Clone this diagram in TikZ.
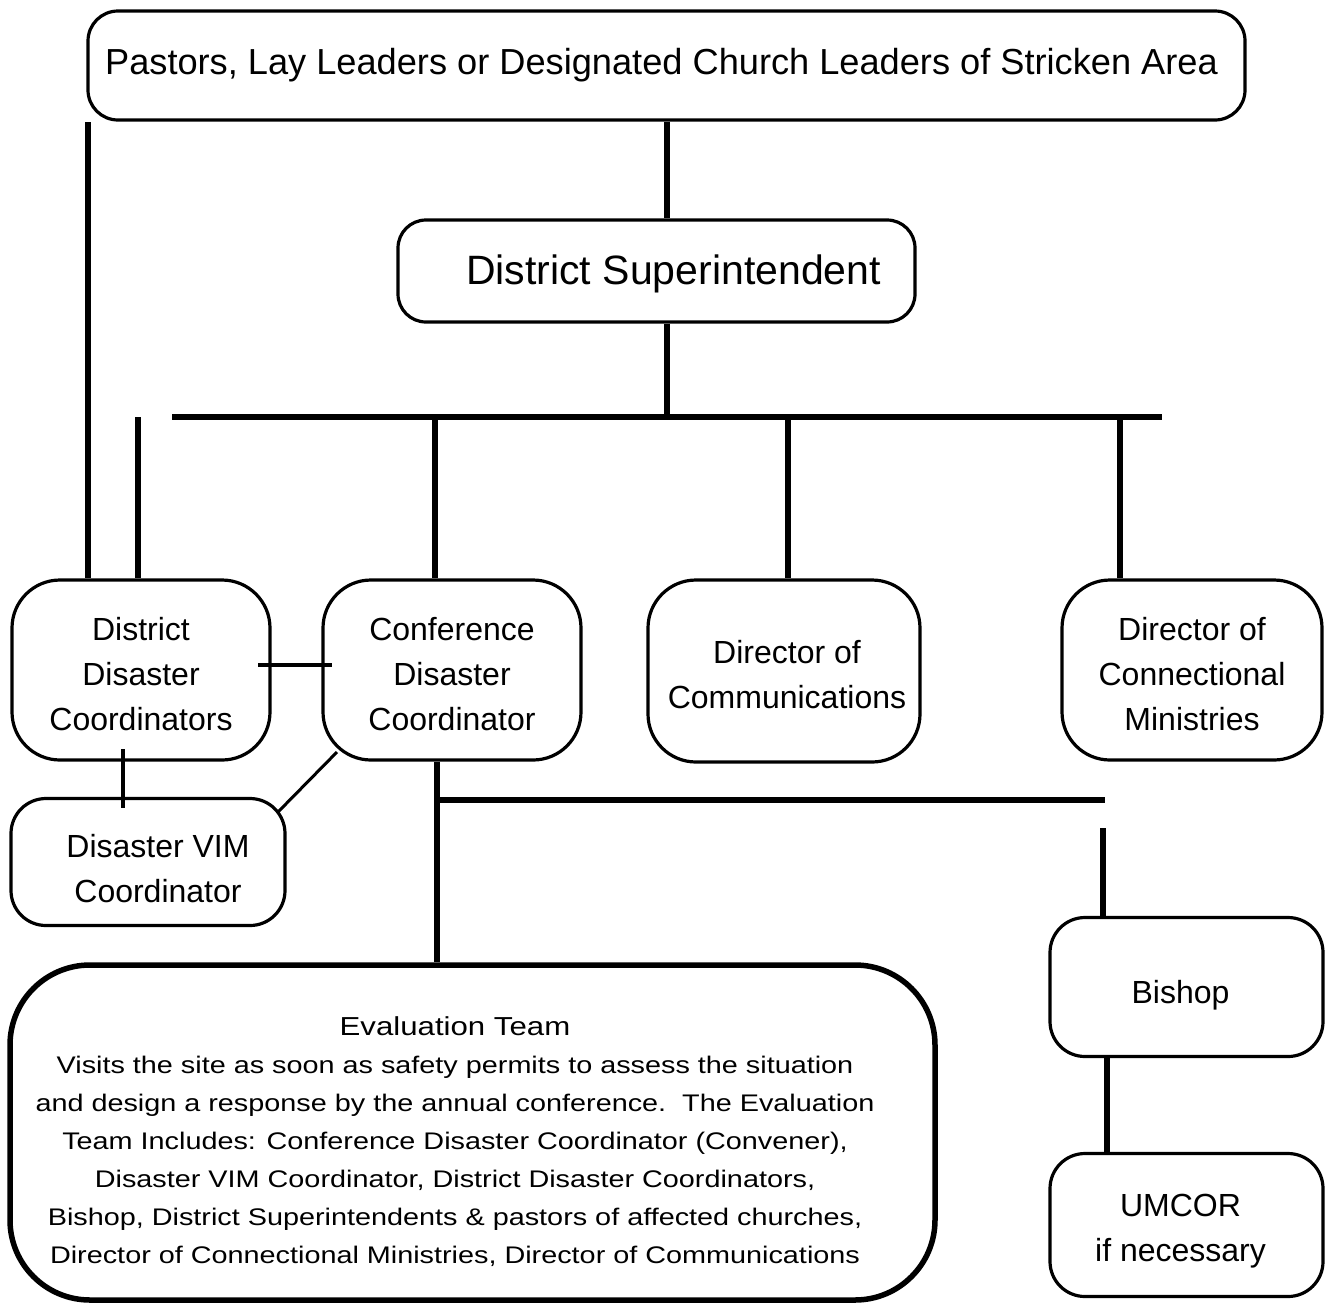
\documentclass[tikz,border=0pt]{standalone}
\usepackage{fontspec}
\setmainfont{Liberation Sans}
\newfontfamily\evalfont[FakeStretch=1.2]{Liberation Sans}
\newcommand\lowerby[2]{\raisebox{-#1}[\height][\depth]{#2}}
\begin{document}
\begin{tikzpicture}[x=1pt,y=-1pt,
  box/.style={draw, line width=3.2pt, align=center, inner sep=0pt,
    font=\fontsize{32}{45}\selectfont},
  conn/.style={line width=5.5pt},
  link/.style={line width=3.8pt},
  diag/.style={line width=3pt}]
\useasboundingbox (0,0) rectangle (1325,1307);

% boxes
\node[box, rounded corners=30pt, minimum width=1157pt, minimum height=109pt,
  font=\fontsize{36.2}{40}\selectfont] (top) at (666.5,65.5)
  {\hspace*{-10pt}Pastors, Lay Leaders or Designated Church Leaders of Stricken Area};
\node[box, rounded corners=28pt, minimum width=517pt, minimum height=102pt,
  font=\fontsize{41}{45}\selectfont] (ds) at (656.5,271)
  {\lowerby{3pt}{\hspace*{34pt}District Superintendent}};
\node[box, rounded corners=48pt, minimum width=258pt, minimum height=180pt] (ddc) at (141,670)
  {\lowerby{4pt}{\parbox{250pt}{\centering District\\Disaster\\Coordinators}}};
\node[box, rounded corners=48pt, minimum width=258pt, minimum height=180pt] (cdc) at (452,670)
  {\lowerby{4pt}{\parbox{250pt}{\centering Conference\\Disaster\\Coordinator}}};
\node[box, rounded corners=48pt, minimum width=272pt, minimum height=182pt] (doc) at (784,671)
  {\lowerby{4pt}{\parbox{264pt}{\centering\hspace*{6pt}Director of\\\hspace*{6pt}Communications}}};
\node[box, rounded corners=48pt, minimum width=260pt, minimum height=180pt] (dcm) at (1192,670)
  {\lowerby{4pt}{\parbox{250pt}{\centering Director of\\Connectional\\Ministries}}};
\node[box, rounded corners=35pt, minimum width=274pt, minimum height=127pt] (vim) at (148,862)
  {\lowerby{7pt}{\parbox{266pt}{\centering\hspace*{20pt}Disaster VIM\\\hspace*{20pt}Coordinator}}};
\node[box, rounded corners=35pt, minimum width=273pt, minimum height=139pt] (bishop) at (1186.5,987)
  {\lowerby{8pt}{\hspace*{-12pt}Bishop}};
\node[box, rounded corners=35pt, minimum width=273pt, minimum height=143pt] (umcor) at (1186.5,1225)
  {\lowerby{6pt}{\parbox{265pt}{\centering\hspace*{-12pt}UMCOR\\\hspace*{-12pt}if necessary}}};
\node[draw, line width=5.5pt, rounded corners=80pt, minimum width=925pt, minimum height=335pt,
  inner sep=0pt] (evalbox) at (472.5,1132.5) {};
\node[align=center, inner sep=0pt, font=\evalfont\fontsize{24}{38}\selectfont] (evaltext) at (455,1142)
  {{\fontsize{26}{40}\selectfont Evaluation Team}\\
   Visits the site as soon as safety permits to assess the situation\\
   and design a response by the annual conference.\ \ The Evaluation\\
   Team Includes: Conference Disaster Coordinator (Convener),\\
   Disaster VIM Coordinator, District Disaster Coordinators,\\
   Bishop, District Superintendents \& pastors of affected churches,\\
   Director of Connectional Ministries, Director of Communications};

% coordinates
\coordinate (spine) at (667,417);
\coordinate (busL) at (172,417);
\coordinate (busR) at (1162,417);
\coordinate (leftTop) at (88,122);
\coordinate (stubTop) at (138,417);
\coordinate (xc) at (435,417);
\coordinate (xd) at (788,417);
\coordinate (xm) at (1120,417);
\coordinate (xe) at (437,800);
\coordinate (bus2R) at (1105,800);
\coordinate (bishopTop) at (1103,828);
\coordinate (xb) at (1107,1000);
\coordinate (linkL) at (258,665);
\coordinate (linkR) at (332,665);
\coordinate (vimT) at (123,749);
\coordinate (vimB) at (123,808);
\coordinate (diagA) at (337,752);
\coordinate (diagB) at (278,812);

% connectors
\draw[conn] (top.south -| spine) -- (ds.north -| spine);
\draw[conn] (ds.south -| spine) -- (spine);
\draw[conn] (busL) -- (busR);
\draw[conn] (leftTop) -- (leftTop |- ddc.north);
\draw[conn] (stubTop) -- (stubTop |- ddc.north);
\draw[conn] (xc) -- (xc |- cdc.north);
\draw[conn] (xd) -- (xd |- doc.north);
\draw[conn] (xm) -- (xm |- dcm.north);
\draw[conn] (cdc.south -| xe) -- (evalbox.north -| xe);
\draw[conn] (xe) -- (bus2R);
\draw[conn] (bishopTop) -- (bishopTop |- bishop.north);
\draw[conn] (bishop.south -| xb) -- (umcor.north -| xb);
\draw[link] (linkL) -- (linkR);
\draw[link] (vimT) -- (vimB);
\draw[diag] (diagA) -- (diagB);
\end{tikzpicture}
\end{document}
